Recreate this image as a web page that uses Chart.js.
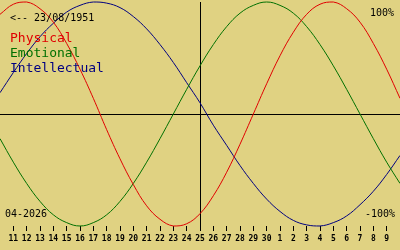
<!DOCTYPE html>
<html><head><meta charset="utf-8">
<script src="https://cdn.jsdelivr.net/npm/chart.js@4/dist/chart.umd.min.js"></script>
<style>html,body{margin:0;padding:0;background:#e0d282;}#wrap{width:400px;height:250px;position:relative;}</style>
</head><body><div id="wrap"><canvas id="c" width="400" height="250"></canvas></div>
<script>
// Days shown: 10 April 2026 .. 10 May 2026 (first/last only frame the plot)
const dayLabels = ['10','11','12','13','14','15','16','17','18','19','20','21','22','23','24','25','26','27','28','29','30','1','2','3','4','5','6','7','8','9','10'];
const todayLabelIndex = 15; // 25 April
const physical = [0.89,0.98,1.00,0.94,0.82,0.63,0.40,0.14,-0.14,-0.40,-0.63,-0.82,-0.94,-1.00,-0.98,-0.89,-0.73,-0.52,-0.27,0.00,0.27,0.52,0.73,0.89,0.98,1.00,0.94,0.82,0.63,0.40,0.14];
const emotional = [-0.22,-0.43,-0.62,-0.78,-0.90,-0.97,-1.00,-0.97,-0.90,-0.78,-0.62,-0.43,-0.22,0.00,0.22,0.43,0.62,0.78,0.90,0.97,1.00,0.97,0.90,0.78,0.62,0.43,0.22,0.00,-0.22,-0.43,-0.62];
const intellectual = [0.19,0.37,0.54,0.69,0.81,0.91,0.97,1.00,0.99,0.95,0.87,0.76,0.62,0.46,0.28,0.10,-0.10,-0.28,-0.46,-0.62,-0.76,-0.87,-0.95,-0.99,-1.00,-0.97,-0.91,-0.81,-0.69,-0.54,-0.37];
const seriesNames = ['Physical','Emotional','Intellectual'];
const seriesColors = ['#e00000','#007000','#000080'];
const birthText = '<-- 23/08/1951';
const monthText = '04-2026';
const topText = '100%';
const bottomText = '-100%';

const textPlugin = {
  id: 'texts',
  afterDatasetsDraw(chart) {
    const ctx = chart.ctx;
    ctx.save();
    ctx.textBaseline = 'alphabetic';
    ctx.font = '10px "DejaVu Sans Mono"';
    ctx.fillStyle = '#000';
    ctx.textAlign = 'left';
    ctx.fillText(birthText, 10, 21);
    ctx.fillText(monthText, 5, 217);
    ctx.textAlign = 'right';
    ctx.fillText(topText, 394, 16);
    ctx.fillText(bottomText, 395, 217);
    ctx.textAlign = 'left';
    ctx.font = '13px "DejaVu Sans Mono"';
    seriesNames.forEach((n, i) => {
      ctx.fillStyle = seriesColors[i];
      ctx.fillText(n, 10, 42 + i * 15);
    });
    ctx.restore();
  }
};

const mk = (label, data, color) => ({
  label, data, borderColor: color, borderWidth: 1, pointRadius: 0,
  tension: 0.4, fill: false, clip: false
});

new Chart(document.getElementById('c'), {
  type: 'line',
  data: {
    labels: dayLabels,
    datasets: [
      mk(seriesNames[0], physical, seriesColors[0]),
      mk(seriesNames[1], emotional, seriesColors[1]),
      mk(seriesNames[2], intellectual, seriesColors[2])
    ]
  },
  options: {
    responsive: false,
    animation: false,
    devicePixelRatio: 1,
    layout: { padding: { top: 2, bottom: 0, left: 0, right: 0 } },
    plugins: { legend: { display: false }, tooltip: { enabled: false } },
    scales: {
      x: {
        type: 'category',
        offset: false,
        border: { display: false },
        afterFit: s => { s.height = 24; s.paddingLeft = 0; s.paddingRight = 0; },
        grid: {
          drawOnChartArea: true,
          drawTicks: true,
          tickLength: 5,
          lineWidth: 1,
          color: c => (c.index === todayLabelIndex ? '#000' : 'rgba(0,0,0,0)'),
          tickColor: c => (c.index === 0 || c.index === dayLabels.length - 1 ? 'rgba(0,0,0,0)' : '#000')
        },
        ticks: {
          autoSkip: false, maxRotation: 0, minRotation: 0, padding: 3,
          color: '#000',
          font: { family: '"DejaVu Sans Mono"', size: 8, weight: 'bold' },
          callback: function(v, i) { return (i === 0 || i === dayLabels.length - 1) ? '' : dayLabels[i]; }
        }
      },
      y: {
        min: -1, max: 1,
        border: { display: false },
        afterFit: s => { s.width = 0; },
        grid: {
          drawTicks: false,
          color: c => (c.tick && c.tick.value === 0 ? '#000' : 'rgba(0,0,0,0)')
        },
        ticks: { display: false, stepSize: 1 }
      }
    }
  },
  plugins: [textPlugin]
});
</script>
</body></html>
